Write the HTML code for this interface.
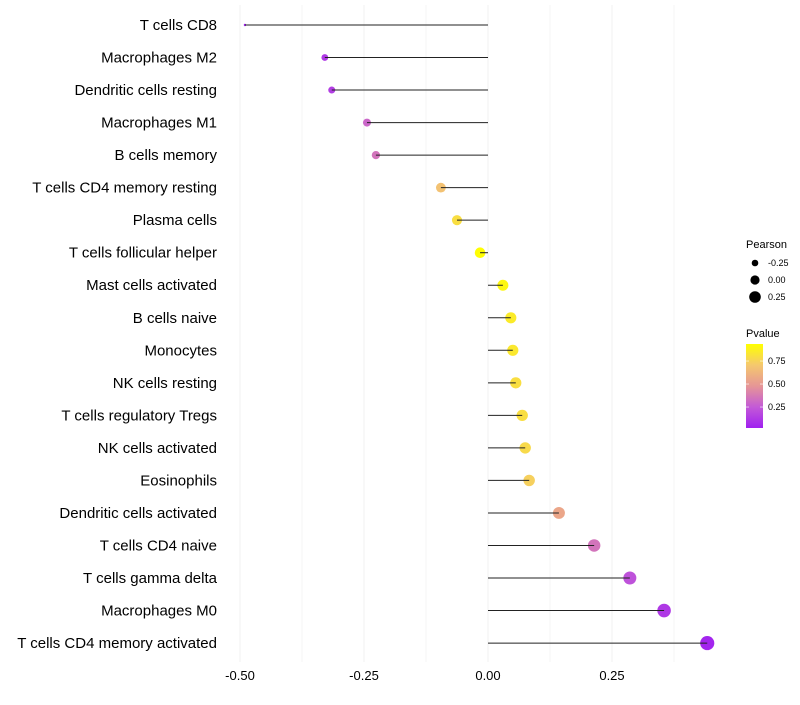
<!DOCTYPE html>
<html><head><meta charset="utf-8"><style>
body{margin:0;background:#fff;font-family:"Liberation Sans",sans-serif}
</style></head><body>
<svg id="chart" width="800" height="700" xmlns="http://www.w3.org/2000/svg" font-family="Liberation Sans, sans-serif"></svg>
<script>
const categories=["T cells CD8","Macrophages M2","Dendritic cells resting","Macrophages M1","B cells memory","T cells CD4 memory resting","Plasma cells","T cells follicular helper","Mast cells activated","B cells naive","Monocytes","NK cells resting","T cells regulatory  Tregs ","NK cells activated","Eosinophils","Dendritic cells activated","T cells CD4 naive","T cells gamma delta","Macrophages M0","T cells CD4 memory activated"];
const pearson=[-0.49,-0.329,-0.315,-0.244,-0.226,-0.095,-0.0625,-0.016,0.030,0.046,0.050,0.056,0.069,0.075,0.083,0.143,0.214,0.286,0.355,0.442];
const pvalues=[0.03,0.12,0.14,0.3,0.35,0.68,0.8,0.93,0.9,0.85,0.84,0.8,0.8,0.78,0.74,0.55,0.35,0.22,0.12,0.04];
const xTicks=[-0.5,-0.25,0,0.25];
const xTickLabels=["-0.50","-0.25","0.00","0.25"];
const minorTicks=[-0.375,-0.125,0.125,0.375];
const sizeLegend=[-0.25,0,0.25];
const colorLegend=[0.25,0.5,0.75];

const NS="http://www.w3.org/2000/svg";
const svg=document.getElementById('chart');
function mk(t,a,p){const e=document.createElementNS(NS,t);for(const k in a)e.setAttribute(k,a[k]);(p||svg).appendChild(e);return e;}
const x=v=>488+v*496;
const y=i=>25+i*32.53;
const pMinD=Math.min(...pearson),pMaxD=Math.max(...pearson);
const r=v=>{const t=Math.max(0,(v-pMinD)/(pMaxD-pMinD));return Math.sqrt(1.5+(50-1.5)*Math.pow(t,0.9));};
const pMin=0.022,pMax=0.935;
const cStops=[[160,32,240],[195,90,215],[230,150,150],[245,200,110],[255,255,0]];
function col(p){let t=(p-pMin)/(pMax-pMin);t=Math.min(1,Math.max(0,t))*4;const i=Math.min(3,Math.floor(t)),f=t-i;const a=cStops[i],b=cStops[i+1];return `rgb(${a.map((c,k)=>Math.round(c+(b[k]-c)*f)).join(',')})`;}

minorTicks.concat(xTicks).forEach(v=>{
  const g=mk('line',{x1:x(v),x2:x(v),y1:5,y2:662,stroke:'#f0f0f0','stroke-width':xTicks.includes(v)?1:0.6});
  
  
});
xTicks.forEach((v,i)=>{
  const t=mk('text',{x:x(v),y:680,'text-anchor':'middle','font-size':13,fill:'#000'});
  t.textContent=xTickLabels[i];
  
  
});
categories.forEach((c,i)=>{
  const t=mk('text',{x:217,y:y(i)+5,'text-anchor':'end','font-size':15,fill:'#000'});
  t.textContent=c;
  
  
  const d=mk('circle',{cx:x(pearson[i]),cy:y(i),r:r(pearson[i]),fill:col(pvalues[i])});
  
  
  const l=mk('line',{x1:x(0),x2:x(pearson[i]),y1:y(i),y2:y(i),stroke:'#222','stroke-width':1});
  
  
});
let t=mk('text',{x:746,y:248,'font-size':11,fill:'#000'});t.textContent='Pearson';


const legR=[3.3,4.6,5.8];
sizeLegend.forEach((v,i)=>{
  const c=mk('circle',{cx:755,cy:263+i*17,r:legR[i],fill:'#000'});
  
  
  const s=mk('text',{x:768,y:266+i*17,'font-size':9,fill:'#000'});s.textContent=v===0?'0.00':v.toFixed(2);
  
  
});
t=mk('text',{x:746,y:337,'font-size':11,fill:'#000'});t.textContent='Pvalue';


const defs=mk('defs',{});
const lg=mk('linearGradient',{id:'pg',x1:0,y1:1,x2:0,y2:0},defs);
for(let k=0;k<=20;k++){const p=pMin+(pMax-pMin)*k/20;mk('stop',{offset:k/20,'stop-color':col(p)},lg);}
const bar=mk('rect',{x:746,y:344,width:17,height:84,fill:'url(#pg)'});


const py=p=>428-(p-pMin)/(pMax-pMin)*84;
colorLegend.forEach(v=>{
  mk('line',{x1:746,x2:749,y1:py(v),y2:py(v),stroke:'#fff','stroke-width':0.6});
  mk('line',{x1:760,x2:763,y1:py(v),y2:py(v),stroke:'#fff','stroke-width':0.6});
  const s=mk('text',{x:768,y:py(v)+3,'font-size':9,fill:'#000'});s.textContent=v.toFixed(2);
  
  
});
</script>
</body></html>
